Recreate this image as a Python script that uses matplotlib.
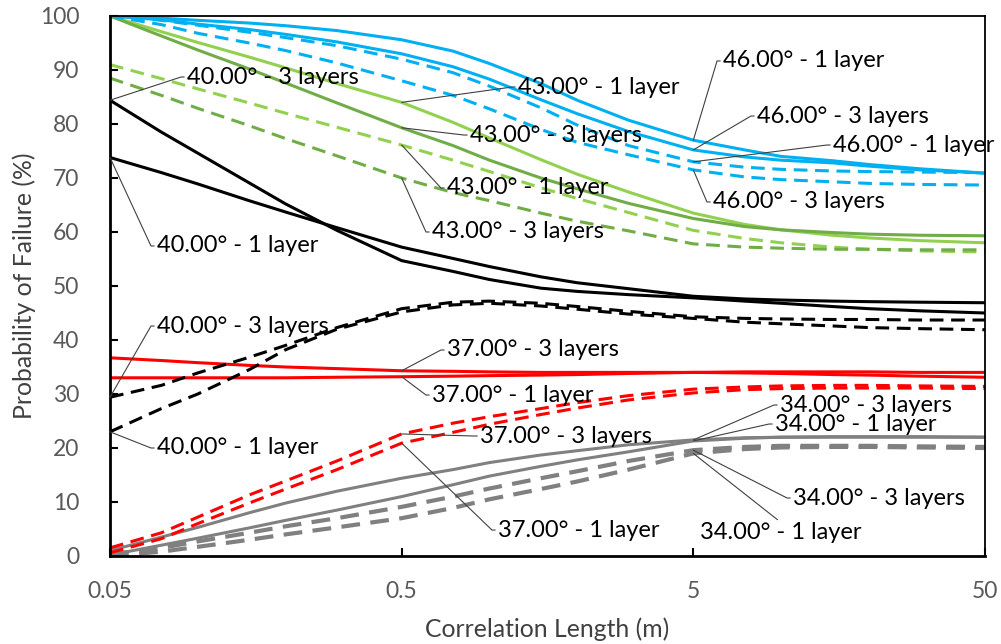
import numpy as np
import matplotlib
matplotlib.use("Agg")
import matplotlib.pyplot as plt

plt.rcParams['font.family'] = ['Lato', 'DejaVu Sans']

# ---------------- data ----------------
corr_len = [0.05, 0.075, 0.1, 0.15, 0.2, 0.3, 0.5, 0.75, 1, 1.5, 2, 3, 5, 7.5, 10, 15, 20, 30, 50]

# 46 degrees
a46_1_solid = [100, 99.6, 99.2, 98.7, 98.2, 97.3, 95.6, 93.5, 91.2, 87.5, 84.4, 80.7, 77.0, 75.2, 74.0, 73.2, 72.5, 71.7, 70.9]
a46_3_solid = [100, 99.3, 98.5, 97.5, 96.6, 95.2, 93.0, 90.6, 88.3, 84.5, 81.9, 78.6, 75.2, 73.9, 73.3, 72.8, 72.2, 71.5, 70.9]
a46_1_dash = [100, 99.2, 98.3, 97.0, 96.0, 94.5, 92.0, 89.5, 87.0, 83.0, 79.8, 76.0, 73.0, 72.0, 71.6, 71.3, 71.2, 71.1, 71.0]
a46_3_dash = [100, 98.4, 96.8, 95.0, 93.6, 91.3, 88.0, 85.3, 82.8, 79.0, 76.6, 74.3, 71.5, 70.2, 69.7, 69.3, 69.0, 68.8, 68.7]
# 43 degrees
a43_1_solid = [100, 97.1, 95.1, 92.4, 90.4, 87.5, 84.0, 80.3, 77.4, 73.4, 70.7, 67.4, 63.5, 61.4, 60.4, 59.4, 58.9, 58.4, 58.0]
a43_3_solid = [100, 96.3, 93.7, 90.2, 87.6, 83.9, 79.3, 76.0, 73.3, 70.0, 68.0, 65.3, 62.5, 61.0, 60.4, 59.9, 59.6, 59.4, 59.3]
a43_1_dash = [91.0, 88.4, 86.5, 83.9, 82.0, 79.4, 76.1, 73.3, 71.2, 68.2, 66.2, 63.6, 60.3, 58.8, 58.0, 57.2, 56.8, 56.5, 56.3]
a43_3_dash = [88.5, 85.3, 82.9, 79.7, 77.3, 74.1, 70.0, 67.3, 65.8, 63.5, 62.0, 60.2, 57.8, 57.2, 57.0, 56.8, 56.8, 56.7, 56.7]
# 40 degrees
a40_3_solid = [84.4, 78.5, 74.6, 69.1, 65.2, 60.3, 54.7, 52.7, 51.2, 49.6, 49.0, 48.4, 47.8, 47.2, 46.8, 46.2, 45.8, 45.4, 45.0]
a40_1_solid = [73.8, 71.0, 68.9, 65.8, 63.7, 60.8, 57.2, 55.1, 53.6, 51.7, 50.6, 49.5, 48.1, 47.6, 47.4, 47.2, 47.1, 47.0, 46.9]
a40_3_dash = [29.4, 31.6, 33.9, 36.8, 39.0, 42.3, 45.8, 47.0, 47.2, 46.8, 46.2, 45.3, 44.3, 44.0, 43.9, 43.8, 43.8, 43.7, 43.7]
a40_1_dash = [23.0, 27.3, 30.0, 34.5, 38.2, 42.0, 45.2, 46.5, 46.8, 46.3, 45.7, 44.8, 44.0, 43.3, 43.0, 42.6, 42.3, 42.1, 41.9]
# 37 degrees
a37_3_solid = [36.7, 36.2, 35.8, 35.3, 35.0, 34.7, 34.3, 34.2, 34.1, 34.0, 34.0, 34.0, 34.0, 33.9, 33.8, 33.6, 33.5, 33.3, 33.1]
a37_1_solid = [33.0, 33.0, 33.0, 33.0, 33.0, 33.1, 33.2, 33.3, 33.4, 33.5, 33.6, 33.8, 34.0, 34.1, 34.1, 34.1, 34.1, 34.0, 34.0]
a37_3_dash = [1.5, 4.3, 7.2, 11.3, 13.9, 17.6, 22.6, 24.6, 25.8, 27.3, 28.4, 29.7, 30.9, 31.3, 31.5, 31.6, 31.6, 31.5, 31.4]
a37_1_dash = [0.6, 3.2, 6.0, 9.8, 12.4, 16.0, 20.9, 22.9, 24.4, 26.2, 27.4, 28.9, 30.2, 30.8, 31.0, 31.1, 31.1, 31.1, 31.0]
# 34 degrees
a34_3_solid = [1.0, 3.5, 5.3, 8.0, 9.8, 12.0, 14.4, 16.0, 17.3, 18.7, 19.5, 20.6, 21.5, 21.9, 22.0, 22.1, 22.1, 22.1, 22.0]
a34_1_solid = [0.2, 2.0, 3.3, 5.2, 6.6, 8.5, 11.0, 13.2, 14.8, 16.6, 17.8, 19.3, 21.3, 21.8, 22.0, 22.0, 22.0, 22.0, 22.0]
a34_3_dash = [0.3, 1.5, 2.7, 4.3, 5.5, 7.0, 9.1, 11.0, 12.5, 14.4, 15.7, 17.6, 19.6, 20.2, 20.4, 20.4, 20.4, 20.3, 20.2]
a34_1_dash = [0.0, 0.8, 1.7, 3.0, 4.0, 5.3, 7.0, 8.9, 10.5, 12.4, 13.8, 16.0, 19.0, 19.8, 20.1, 20.2, 20.2, 20.1, 20.0]

x_ticks = [0.05, 0.5, 5, 50]
x_tick_labels = ["0.05", "0.5", "5", "50"]
y_ticks = [0, 10, 20, 30, 40, 50, 60, 70, 80, 90, 100]

BLUE = "#00B0F0"
LGREEN = "#92D050"
DGREEN = "#70AD47"
RED = "#FF0000"
GREY = "#808080"
BLACK = "#000000"

fig = plt.figure(figsize=(10.01, 6.44), dpi=100)
ax = fig.add_axes([110 / 1001, 1 - 556 / 644, 875 / 1001, 540 / 644])

LW = 2.2
DASH = (0, (4.5, 2.5))
series = [
    (a34_3_dash, GREY, DASH, 3.0),
    (a34_1_dash, GREY, DASH, 3.0),
    (a34_3_solid, GREY, '-', LW),
    (a34_1_solid, GREY, '-', LW),
    (a37_3_dash, RED, DASH, LW),
    (a37_1_dash, RED, DASH, LW),
    (a37_3_solid, RED, '-', LW),
    (a37_1_solid, RED, '-', LW),
    (a40_3_dash, BLACK, DASH, LW),
    (a40_1_dash, BLACK, DASH, LW),
    (a40_3_solid, BLACK, '-', LW),
    (a40_1_solid, BLACK, '-', LW),
    (a43_1_dash, LGREEN, DASH, LW),
    (a43_3_dash, DGREEN, DASH, LW),
    (a43_1_solid, LGREEN, '-', LW),
    (a43_3_solid, DGREEN, '-', LW),
    (a46_1_dash, BLUE, DASH, LW),
    (a46_3_dash, BLUE, DASH, LW),
    (a46_1_solid, BLUE, '-', LW),
    (a46_3_solid, BLUE, '-', LW),
]
for ys, c, ls, lw in series:
    ax.plot(corr_len, ys, color=c, linestyle=ls, linewidth=lw,
            solid_capstyle='butt', dash_capstyle='butt', solid_joinstyle='round')

ax.set_xscale('log')
ax.set_xlim(0.05, 50)
ax.set_ylim(0, 100)
ax.set_xticks(x_ticks)
ax.set_xticklabels(x_tick_labels)
ax.xaxis.set_minor_locator(matplotlib.ticker.NullLocator())
ax.set_yticks(y_ticks)
ax.tick_params(axis='both', direction='in', length=6, width=1.5, colors='black',
               labelcolor='#595959', labelsize=16.5)
ax.tick_params(axis='x', pad=18)
ax.tick_params(axis='y', pad=22)
for s in ['left', 'bottom']:
    ax.spines[s].set_linewidth(2.0)
for s in ['top', 'right']:
    ax.spines[s].set_linewidth(1.3)
ax.set_xlabel("Correlation Length (m)", fontsize=17.8, color='#404040', labelpad=11)
ax.set_ylabel("Probability of Failure (%)", fontsize=17.8, color='#404040', labelpad=3)

# ---------------- callout labels ----------------
def yat(series_vals, xv):
    return float(np.interp(np.log10(xv), np.log10(corr_len), series_vals))

labels = [
    # text, series, x of anchor, text pos (axes frac), ha
    ("46.00° - 1 layer", a46_1_solid, 5, (0.7006, 0.9167), 'left'),
    ("46.00° - 3 layers", a46_3_solid, 5, (0.7394, 0.8148), 'left'),
    ("46.00° - 1 layer", a46_1_dash, 5, (0.8263, 0.7611), 'left'),
    ("46.00° - 3 layers", a46_3_dash, 5, (0.6891, 0.6556), 'left'),
    ("43.00° - 1 layer", a43_1_solid, 0.5, (0.4663, 0.8685), 'left'),
    ("43.00° - 3 layers", a43_3_solid, 0.5, (0.4114, 0.7796), 'left'),
    ("43.00° - 1 layer", a43_1_dash, 0.5, (0.3851, 0.6815), 'left'),
    ("43.00° - 3 layers", a43_3_dash, 0.5, (0.3680, 0.6000), 'left'),
    ("40.00° - 3 layers", a40_3_solid, 0.05, (0.0880, 0.8870), 'left'),
    ("40.00° - 1 layer", a40_1_solid, 0.05, (0.0537, 0.5741), 'left'),
    ("40.00° - 3 layers", a40_3_dash, 0.05, (0.0537, 0.4259), 'left'),
    ("40.00° - 1 layer", a40_1_dash, 0.05, (0.0537, 0.2000), 'left'),
    ("37.00° - 3 layers", a37_3_solid, 0.5, (0.3851, 0.3815), 'left'),
    ("37.00° - 1 layer", a37_1_solid, 0.5, (0.3680, 0.2981), 'left'),
    ("37.00° - 3 layers", a37_3_dash, 0.5, (0.4229, 0.2222), 'left'),
    ("37.00° - 1 layer", a37_1_dash, 0.5, (0.4434, 0.0481), 'left'),
    ("34.00° - 3 layers", a34_3_solid, 5, (0.7657, 0.2796), 'left'),
    ("34.00° - 1 layer", a34_1_solid, 5, (0.7600, 0.2444), 'left'),
    ("34.00° - 3 layers", a34_3_dash, 5, (0.7806, 0.1074), 'left'),
    ("34.00° - 1 layer", a34_1_dash, 5, (0.7669, 0.0426), 'center'),
]
for txt, ys, xv, pos, ha in labels:
    if ha == 'left':
        ap = dict(arrowstyle='-', color='#404040', lw=0.8, shrinkA=0, shrinkB=0,
                  relpos=(0, 0.5), connectionstyle="arc,angleA=180,armA=6,angleB=0,armB=0,rad=0")
    else:
        ap = dict(arrowstyle='-', color='#404040', lw=0.8, shrinkA=0, shrinkB=0,
                  relpos=(0.5, 1.0))
    ax.annotate(txt, xy=(xv, yat(ys, xv)), xycoords='data', xytext=pos,
                textcoords='axes fraction', ha=ha, va='center', fontsize=17,
                color='black', arrowprops=ap, annotation_clip=False)

fig.savefig("out.png", dpi=100)
